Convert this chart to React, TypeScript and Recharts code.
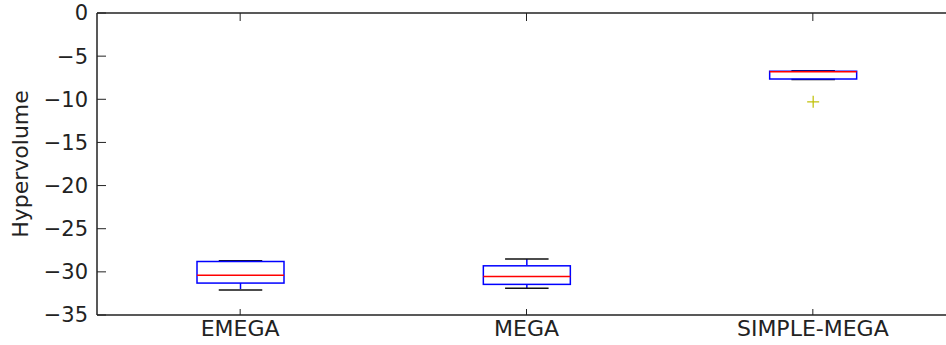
import React from 'react';
import { ComposedChart, Bar, XAxis, YAxis } from 'recharts';

// Box-plot summary per algorithm
const categories = ['EMEGA', 'MEGA', 'SIMPLE-MEGA'];
const whiskerLow = [-32.1, -31.9, -7.7];
const quartile1 = [-31.3, -31.45, -7.65];
const medians = [-30.4, -30.55, -6.8];
const quartile3 = [-28.8, -29.3, -6.75];
const whiskerHigh = [-28.7, -28.5, -6.7];
const outliers: number[][] = [[], [], [-10.3]];
const yTicks = [-35, -30, -25, -20, -15, -10, -5, 0];

const data = categories.map((name, i) => ({
  name,
  range: [whiskerLow[i], whiskerHigh[i]],
  q1: quartile1[i],
  median: medians[i],
  q3: quartile3[i],
  outliers: outliers[i],
}));

const FONT = "'DejaVu Sans', sans-serif";
const AXIS = '#222';

const fmt = (v: number) => (v < 0 ? '\u2212' + Math.abs(v) : String(v));

// The bar spans the whisker range; the box, median, caps and fliers are drawn
// inside it using the bar's own pixel mapping.
function BoxShape(props: any) {
  const { x, y, width, height, payload } = props;
  const top = Math.min(y, y + height);
  const h = Math.abs(height);
  const [lo, hi] = payload.range;
  const toPx = (v: number) => top + ((hi - v) / (hi - lo)) * h;
  const cx = x + width / 2;
  const capHalf = width / 4;
  const yQ1 = toPx(payload.q1);
  const yQ3 = toPx(payload.q3);
  const yMed = toPx(payload.median);
  const yLo = toPx(lo);
  const yHi = toPx(hi);
  return (
    <g>
      <line x1={cx} x2={cx} y1={yHi} y2={yQ3} stroke="#0000ff" strokeWidth={1.5} strokeDasharray="6 6" />
      <line x1={cx} x2={cx} y1={yQ1} y2={yLo} stroke="#0000ff" strokeWidth={1.5} strokeDasharray="6 6" />
      <line x1={cx - capHalf} x2={cx + capHalf} y1={yHi} y2={yHi} stroke="#111" strokeWidth={1.5} />
      <line x1={cx - capHalf} x2={cx + capHalf} y1={yLo} y2={yLo} stroke="#111" strokeWidth={1.5} />
      <rect x={x} y={yQ3} width={width} height={yQ1 - yQ3} fill="none" stroke="#0000ff" strokeWidth={1.5} />
      <line x1={x} x2={x + width} y1={yMed} y2={yMed} stroke="#ff0000" strokeWidth={1.5} />
      {payload.outliers.map((o: number, k: number) => {
        const py = toPx(o);
        return (
          <g key={k} stroke="#bfbf00" strokeWidth={1.2}>
            <line x1={cx - 6} x2={cx + 6} y1={py} y2={py} />
            <line x1={cx} x2={cx} y1={py - 6} y2={py + 6} />
          </g>
        );
      })}
    </g>
  );
}

export default function App() {
  return (
    <div style={{ position: 'absolute', left: 0, top: 0, width: 946, height: 345, overflow: 'hidden', background: '#fff' }}>
      <ComposedChart width={960} height={345} data={data} margin={{ top: 12, right: 4, left: 0, bottom: 0 }}>
        <XAxis
          dataKey="name"
          height={30}
          tickSize={-6}
          tickMargin={11}
          axisLine={{ stroke: AXIS, strokeWidth: 1.5 }}
          tickLine={{ stroke: AXIS, strokeWidth: 1 }}
          tick={{ fontFamily: FONT, fontSize: 22, fill: '#222' }}
          interval={0}
        />
        <XAxis
          xAxisId="top"
          dataKey="name"
          orientation="top"
          height={1}
          tickSize={-8}
          tickFormatter={() => ''}
          tick={{ fontSize: 1 }}
          axisLine={{ stroke: AXIS, strokeWidth: 1.5 }}
          tickLine={{ stroke: AXIS, strokeWidth: 1 }}
          interval={0}
        />
        <YAxis
          type="number"
          width={97}
          domain={[-35, 0]}
          ticks={yTicks}
          interval={0}
          tickSize={-9}
          tickMargin={18}
          tickFormatter={fmt}
          axisLine={{ stroke: AXIS, strokeWidth: 1.5 }}
          tickLine={{ stroke: AXIS, strokeWidth: 1 }}
          tick={{ fontFamily: FONT, fontSize: 21, fill: '#222' }}
          label={{
            value: 'Hypervolume',
            angle: -90,
            position: 'insideLeft',
            offset: 20,
            style: { textAnchor: 'middle', fontFamily: FONT, fontSize: 22, fill: '#222' },
          }}
        />
        <Bar dataKey="range" barSize={87} shape={<BoxShape />} isAnimationActive={false} />
      </ComposedChart>
    </div>
  );
}
